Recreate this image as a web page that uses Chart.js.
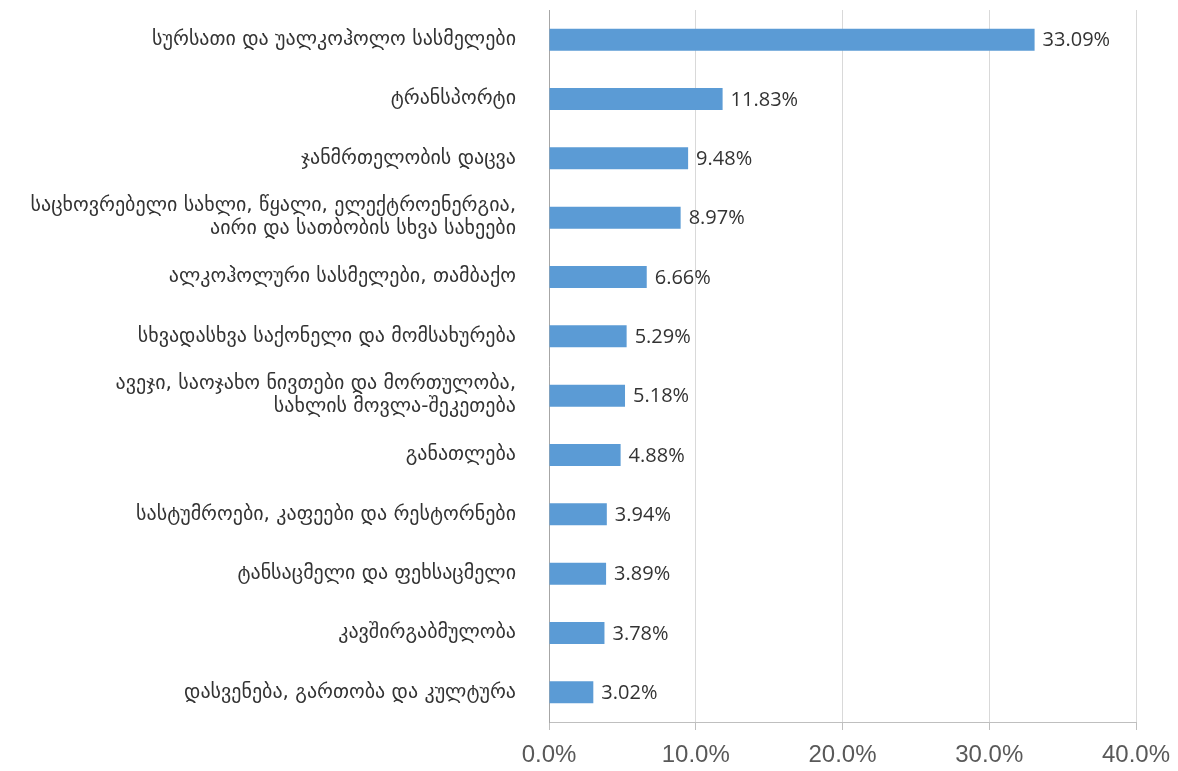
<!DOCTYPE html>
<html>
<head>
<meta charset="utf-8">
<script src="https://cdn.jsdelivr.net/npm/chart.js@4"></script>
<style>
  html, body { margin: 0; padding: 0; background: #fff; }
  #wrap { width: 1178px; height: 771px; position: relative; }
</style>
</head>
<body>
<div id="wrap"><canvas id="chart"></canvas></div>
<script>
// category labels, top to bottom (two-line ones split into arrays)
const categories = [
    'სურსათი და უალკოჰოლო სასმელები',
    'ტრანსპორტი',
    'ჯანმრთელობის დაცვა',
    ['საცხოვრებელი სახლი, წყალი, ელექტროენერგია,', 'აირი და სათბობის სხვა სახეები'],
    'ალკოჰოლური სასმელები, თამბაქო',
    'სხვადასხვა საქონელი და მომსახურება',
    ['ავეჯი, საოჯახო ნივთები და მორთულობა,', 'სახლის მოვლა-შეკეთება'],
    'განათლება',
    'სასტუმროები, კაფეები და რესტორნები',
    'ტანსაცმელი და ფეხსაცმელი',
    'კავშირგაბმულობა',
    'დასვენება, გართობა და კულტურა'
];

// share of consumer basket, %
const shares = [33.09, 11.83, 9.48, 8.97, 6.66, 5.29, 5.18, 4.88, 3.94, 3.89, 3.78, 3.02];

// x axis ticks
const tickValues = [0, 10, 20, 30, 40];

const valueLabels = {
    id: 'valueLabels',
    afterDatasetsDraw(chart) {
        const ctx = chart.ctx;
        const meta = chart.getDatasetMeta(0);
        ctx.save();
        ctx.fillStyle = '#333333';
        ctx.font = '20px "Open Sans", sans-serif';
        ctx.textAlign = 'left';
        ctx.textBaseline = 'middle';
        meta.data.forEach((bar, i) => {
            ctx.fillText(shares[i].toFixed(2) + '%', bar.x + 8, bar.y + 1);
        });
        ctx.restore();
    }
};

new Chart(document.getElementById('chart'), {
    type: 'bar',
    data: {
        labels: categories,
        datasets: [{
            data: shares,
            backgroundColor: '#5b9bd5',
            borderWidth: 0,
            categoryPercentage: 1.0,
            barPercentage: 0.37
        }]
    },
    options: {
        indexAxis: 'y',
        responsive: true,
        maintainAspectRatio: false,
        animation: false,
        layout: {
            padding: { top: 10, right: 42, left: 0, bottom: 0 }
        },
        scales: {
            x: {
                min: 0,
                max: 40,
                afterBuildTicks(scale) {
                    scale.ticks = tickValues.map(v => ({ value: v }));
                },
                afterFit(scale) {
                    scale.height = 49;
                    scale.paddingLeft = 0;
                    scale.paddingRight = 0;
                },
                grid: {
                    color: '#d9d9d9',
                    tickColor: '#bfbfbf',
                    tickLength: 8,
                    lineWidth: 1
                },
                border: { color: '#bfbfbf', width: 1 },
                ticks: {
                    color: '#595959',
                    padding: 11,
                    font: { family: '"Liberation Sans Narrow", "Liberation Sans", sans-serif', size: 24 },
                    callback: v => v.toFixed(1) + '%'
                }
            },
            y: {
                afterFit(scale) {
                    scale.width = 549;
                    scale.paddingTop = 0;
                    scale.paddingBottom = 0;
                },
                grid: { display: false, drawTicks: false },
                border: { color: '#a6a6a6', width: 1 },
                ticks: {
                    color: '#333333',
                    padding: 33,
                    font: { family: '"DejaVu Sans", sans-serif', size: 20, lineHeight: 1.15 }
                }
            }
        },
        plugins: {
            legend: { display: false },
            tooltip: { enabled: false }
        }
    },
    plugins: [valueLabels]
});
</script>
</body>
</html>
